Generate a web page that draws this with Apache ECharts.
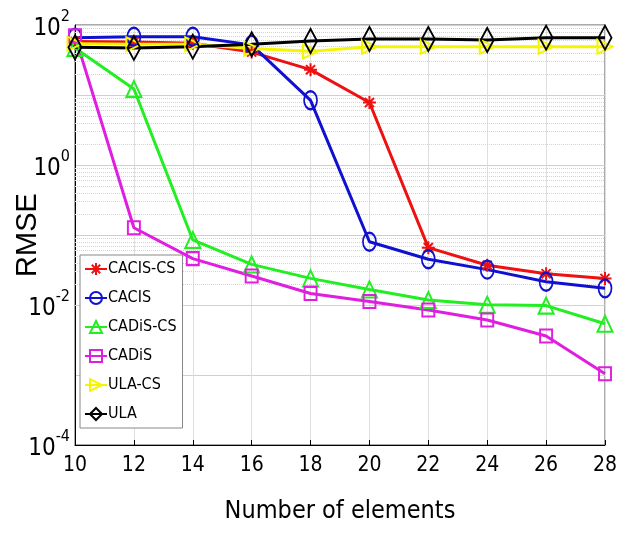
<!DOCTYPE html>
<html>
<head>
<meta charset="utf-8">
<script src="https://cdn.jsdelivr.net/npm/echarts@6/dist/echarts.min.js"></script>
<style>html,body{margin:0;padding:0;background:#fff}#c{width:620px;height:533px}</style>
</head>
<body>
<div id="c"></div>
<script>
var elements = [10, 12, 14, 16, 18, 20, 22, 24, 26, 28];
var cacisCS = [58, 57, 55, 41, 23, 7.8, 0.066, 0.037, 0.028, 0.024];
var cacis   = [66, 68, 68, 52, 8.4, 0.080, 0.045, 0.032, 0.0215, 0.0173];
var cadisCS = [47, 12.2, 0.085, 0.038, 0.024, 0.0167, 0.0118, 0.0101, 0.0098, 0.0054];
var cadis   = [70, 0.127, 0.046, 0.026, 0.0146, 0.0112, 0.0085, 0.0061, 0.0036, 0.00104];
var ulaCS   = [54, 53, 53, 46, 42, 49, 49, 49, 49, 49];
var ula     = [48, 47, 49, 53, 59, 63, 63, 61, 66, 66];
var seriesNames = ['CACIS-CS', 'CACIS', 'CADiS-CS', 'CADiS', 'ULA-CS', 'ULA'];

var NARROW = "'Liberation Sans Narrow','Arial Narrow','DejaVu Sans Condensed','Liberation Sans',Arial,sans-serif";
var minorGrid = [];
for (var e = -4; e < 2; e++) {
  for (var m = 2; m <= 9; m++) minorGrid.push({ yAxis: m * Math.pow(10, e) });
}
var star = 'path://M0,-10L0,10M-10,0L10,0M-7,-7L7,7M-7,7L7,-7';

function mk(name, data, color, symbol, size, rotate) {
  return {
    name: name, type: 'line',
    data: elements.map(function (x, i) { return [x, data[i]]; }),
    symbol: symbol, symbolSize: size, symbolRotate: rotate || 0,
    showAllSymbol: true,
    lineStyle: { color: color, width: 3 },
    itemStyle: { color: 'transparent', borderColor: color, borderWidth: 2 },
    emphasis: { disabled: true }
  };
}
var series = [
  mk(seriesNames[0], cacisCS, '#ee1111', star, 13),
  mk(seriesNames[1], cacis, '#1010d0', 'circle', [13, 18]),
  mk(seriesNames[2], cadisCS, '#22ee22', 'triangle', [15, 16]),
  mk(seriesNames[3], cadis, '#e01ee0', 'rect', [12, 13]),
  mk(seriesNames[4], ulaCS, '#f5f500', 'triangle', [14, 15], -90),
  mk(seriesNames[5], ula, '#000000', 'diamond', [13, 24])
];
series[0].markLine = {
  silent: true, symbol: 'none', z: 1, animation: false,
  label: { show: false },
  lineStyle: { color: '#d4d4d4', type: 'dotted', width: 1 },
  data: minorGrid
};

var chart = echarts.init(document.getElementById('c'));
chart.setOption({
  animation: false,
  backgroundColor: '#fff',
  grid: { left: 75, right: 15, top: 25, bottom: 88, containLabel: false, outerBoundsMode: 'none', show: true, borderColor: '#555', borderWidth: 1, backgroundColor: 'transparent' },
  legend: {
    orient: 'vertical', left: 80, top: 255,
    data: seriesNames,
    itemWidth: 22, itemHeight: 15, itemGap: 13,
    padding: [6, 6, 6, 4],
    backgroundColor: '#fff', borderColor: '#888', borderWidth: 1,
    textStyle: { fontSize: 16, fontFamily: NARROW, color: '#000', padding: [0, 0, 0, -4] }
  },
  xAxis: {
    type: 'value', min: 10, max: 28, interval: 2,
    name: 'Number of elements', nameLocation: 'middle', nameGap: 54, nameMoveOverlap: false,
    nameTextStyle: { fontSize: 25, fontFamily: NARROW, color: '#000', verticalAlign: 'top' },
    axisLine: { lineStyle: { color: '#000' } },
    axisTick: { inside: true, length: 5, lineStyle: { color: '#000' } },
    axisLabel: { fontSize: 21, fontFamily: NARROW, color: '#000', margin: 10 },
    splitLine: { show: true, lineStyle: { color: '#dedede', width: 1 } }
  },
  yAxis: {
    type: 'log', logBase: 10, min: 1e-4, max: 100,
    name: 'RMSE', nameLocation: 'middle', nameGap: 33, nameMoveOverlap: false,
    nameTextStyle: { fontSize: 29, fontFamily: "'Liberation Sans',Arial,sans-serif", color: '#000', verticalAlign: 'bottom' },
    axisLine: { show: true, lineStyle: { color: '#000' } },
    axisTick: { show: false },
    axisLabel: {
      margin: 5, color: '#000',
      formatter: function (v) {
        var ex = Math.round(Math.log10(v));
        if (ex % 2 !== 0) return '';
        return '{b|10}{s|' + ex + '}';
      },
      rich: {
        b: { fontSize: 24, fontFamily: NARROW, color: '#000', verticalAlign: 'bottom', lineHeight: 32 },
        s: { fontSize: 16, fontFamily: NARROW, color: '#000', verticalAlign: 'top', lineHeight: 32 }
      }
    },
    splitLine: { show: true, lineStyle: { color: '#cfcfcf', width: 1 } }
  },
  series: series
});
</script>
</body>
</html>
